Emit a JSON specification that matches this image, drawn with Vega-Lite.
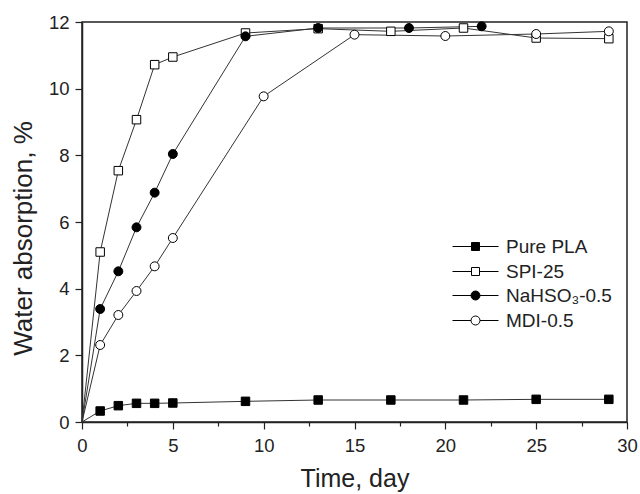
{
  "$schema": "https://vega.github.io/schema/vega-lite/v6.json",
  "width": 545,
  "height": 400,
  "autosize": {"type": "none"},
  "padding": {"left": 82, "top": 22, "right": 13, "bottom": 72},
  "config": {
    "font": "Liberation Sans",
    "view": {"stroke": "#222", "strokeWidth": 1.5},
    "axis": {
      "domainColor": "#222",
      "domainWidth": 1.5,
      "tickColor": "#222",
      "tickWidth": 1.2,
      "labelColor": "#222",
      "labelFontSize": 18.5,
      "titleColor": "#222",
      "titleFontSize": 25,
      "titleFontWeight": "normal",
      "grid": false
    },
    "legend": {
      "labelFontSize": 19,
      "labelColor": "#222",
      "title": null,
      "orient": "none",
      "padding": 0,
      "rowPadding": 5,
      "symbolSize": 100,
      "labelOffset": 21,
      "symbolStrokeColor": "black",
      "symbolStrokeWidth": 1,
      "symbolOpacity": 1
    }
  },
  "data": {
    "values": [
      {"series": "Pure PLA", "day": 0, "value": 0},
      {"series": "Pure PLA", "day": 1, "value": 0.33},
      {"series": "Pure PLA", "day": 2, "value": 0.49},
      {"series": "Pure PLA", "day": 3, "value": 0.56},
      {"series": "Pure PLA", "day": 4, "value": 0.56},
      {"series": "Pure PLA", "day": 5, "value": 0.57},
      {"series": "Pure PLA", "day": 9, "value": 0.62},
      {"series": "Pure PLA", "day": 13, "value": 0.66},
      {"series": "Pure PLA", "day": 17, "value": 0.66},
      {"series": "Pure PLA", "day": 21, "value": 0.66},
      {"series": "Pure PLA", "day": 25, "value": 0.68},
      {"series": "Pure PLA", "day": 29, "value": 0.68},
      {"series": "SPI-25", "day": 0, "value": 0},
      {"series": "SPI-25", "day": 1, "value": 5.1},
      {"series": "SPI-25", "day": 2, "value": 7.54},
      {"series": "SPI-25", "day": 3, "value": 9.07},
      {"series": "SPI-25", "day": 4, "value": 10.72},
      {"series": "SPI-25", "day": 5, "value": 10.95},
      {"series": "SPI-25", "day": 9, "value": 11.67},
      {"series": "SPI-25", "day": 13, "value": 11.8},
      {"series": "SPI-25", "day": 17, "value": 11.72},
      {"series": "SPI-25", "day": 21, "value": 11.82},
      {"series": "SPI-25", "day": 25, "value": 11.52},
      {"series": "SPI-25", "day": 29, "value": 11.5},
      {"series": "NaHSO₃-0.5", "day": 0, "value": 0},
      {"series": "NaHSO₃-0.5", "day": 1, "value": 3.39},
      {"series": "NaHSO₃-0.5", "day": 2, "value": 4.52},
      {"series": "NaHSO₃-0.5", "day": 3, "value": 5.84},
      {"series": "NaHSO₃-0.5", "day": 4, "value": 6.88},
      {"series": "NaHSO₃-0.5", "day": 5, "value": 8.04},
      {"series": "NaHSO₃-0.5", "day": 9, "value": 11.57},
      {"series": "NaHSO₃-0.5", "day": 13, "value": 11.82},
      {"series": "NaHSO₃-0.5", "day": 18, "value": 11.82},
      {"series": "NaHSO₃-0.5", "day": 22, "value": 11.87},
      {"series": "MDI-0.5", "day": 0, "value": 0},
      {"series": "MDI-0.5", "day": 1, "value": 2.31},
      {"series": "MDI-0.5", "day": 2, "value": 3.21},
      {"series": "MDI-0.5", "day": 3, "value": 3.93},
      {"series": "MDI-0.5", "day": 4, "value": 4.67},
      {"series": "MDI-0.5", "day": 5, "value": 5.52},
      {"series": "MDI-0.5", "day": 10, "value": 9.77},
      {"series": "MDI-0.5", "day": 15, "value": 11.62},
      {"series": "MDI-0.5", "day": 20, "value": 11.58},
      {"series": "MDI-0.5", "day": 25, "value": 11.64},
      {"series": "MDI-0.5", "day": 29, "value": 11.72}
    ]
  },
  "layer": [
    {
      "mark": {"type": "line", "stroke": "#333", "strokeWidth": 1},
      "encoding": {
        "x": {
          "field": "day",
          "type": "quantitative",
          "scale": {"domain": [0, 30], "nice": false},
          "axis": {
            "title": "Time, day",
            "values": [0, 2.5, 5, 7.5, 10, 12.5, 15, 17.5, 20, 22.5, 25, 27.5, 30],
            "labelExpr": "datum.value % 5 === 0 ? datum.label : ''",
            "tickSize": {"condition": {"test": "datum.value % 5 === 0", "value": 7}, "value": 4},
            "labelPadding": 7,
            "titlePadding": 12,
            "labelFlush": false
          }
        },
        "y": {
          "field": "value",
          "type": "quantitative",
          "scale": {"domain": [0, 12], "nice": false},
          "axis": {
            "title": "Water absorption, %",
            "titleFontSize": 26,
            "titleY": 216,
            "values": [0, 1, 2, 3, 4, 5, 6, 7, 8, 9, 10, 11, 12],
            "labelExpr": "datum.value % 2 === 0 ? datum.label : ''",
            "tickSize": {"condition": {"test": "datum.value % 2 === 0", "value": 7}, "value": 4},
            "labelPadding": 6,
            "titlePadding": 12,
            "labelFlush": false
          }
        },
        "detail": {"field": "series", "type": "nominal"}
      }
    },
    {
      "transform": [{"filter": "datum.day > 0 && (datum.series === 'Pure PLA' || datum.series === 'SPI-25')"}],
      "mark": {"type": "point", "shape": "square", "stroke": "black", "strokeWidth": 1, "opacity": 1, "size": 72},
      "encoding": {
        "x": {"field": "day", "type": "quantitative"},
        "y": {"field": "value", "type": "quantitative"},
        "fill": {
          "field": "series",
          "type": "nominal",
          "scale": {"domain": ["Pure PLA", "SPI-25"], "range": ["black", "white"]},
          "legend": {
            "legendX": 384,
            "legendY": 215,
            "symbolType": "M-4.6,0H-0.8M0.8,0H4.6M-0.8,-0.8H0.8V0.8H-0.8Z"
          }
        }
      }
    },
    {
      "transform": [{"filter": "datum.day > 0 && (datum.series === 'NaHSO₃-0.5' || datum.series === 'MDI-0.5')"}],
      "mark": {"type": "point", "shape": "circle", "stroke": "black", "strokeWidth": 1, "opacity": 1, "size": 80},
      "encoding": {
        "x": {"field": "day", "type": "quantitative"},
        "y": {"field": "value", "type": "quantitative"},
        "fill": {
          "field": "series",
          "type": "nominal",
          "scale": {"domain": ["NaHSO₃-0.5", "MDI-0.5"], "range": ["black", "white"]},
          "legend": {
            "legendX": 384,
            "legendY": 264,
            "symbolType": "M-4.6,0H-0.9M0.9,0H4.6M0.9,0C0.9,0.5,0.5,0.9,0,0.9C-0.5,0.9,-0.9,0.5,-0.9,0C-0.9,-0.5,-0.5,-0.9,0,-0.9C0.5,-0.9,0.9,-0.5,0.9,0Z"
          }
        }
      }
    }
  ],
  "resolve": {"scale": {"fill": "independent"}, "legend": {"fill": "independent"}}
}
